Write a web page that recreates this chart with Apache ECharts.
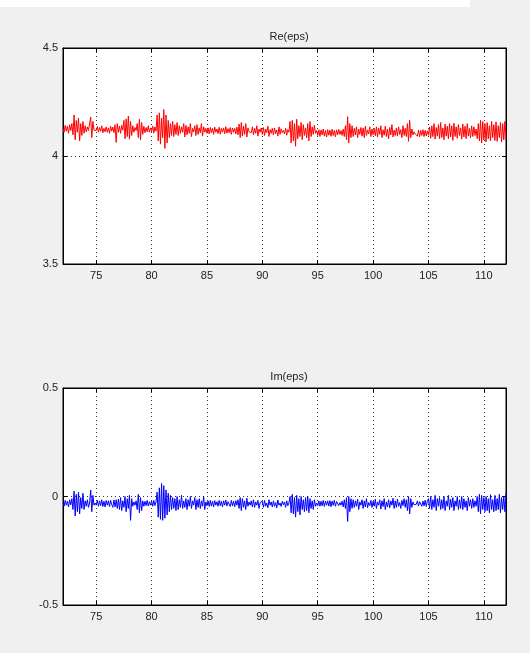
<!DOCTYPE html>
<html>
<head>
<meta charset="utf-8">
<script src="https://cdn.jsdelivr.net/npm/echarts@6/dist/echarts.min.js"></script>
<style>
html,body{margin:0;padding:0;background:#f0f0f0;}
#c{width:530px;height:653px;}
</style>
</head>
<body>
<div id="c"></div>
<script>
// sample grid of the signal (x from 72 to 112, step 0.1)
const xStart = 72;
const xStep = 0.1;
const xTicks = [75, 80, 85, 90, 95, 100, 105, 110];
const reTitle = 'Re(eps)';
const imTitle = 'Im(eps)';
const reTicksRange = [3.5, 4.5, 0.5];
const imTicksRange = [-0.5, 0.5, 0.5];

const reEps = [
4.128,4.110,4.142,4.115,4.138,4.105,4.145,4.118,4.150,4.098,
4.190,4.075,4.165,4.110,4.176,4.070,4.150,4.095,4.160,4.105,
4.140,4.112,4.135,4.118,4.125,4.180,4.085,4.160,4.120,4.128,
4.118,4.136,4.110,4.132,4.114,4.140,4.108,4.128,4.112,4.135,
4.110,4.130,4.105,4.138,4.115,4.134,4.108,4.145,4.063,4.150,
4.110,4.138,4.105,4.142,4.120,4.165,4.080,4.172,4.090,4.185,
4.078,4.160,4.095,4.140,4.110,4.132,4.118,4.150,4.085,4.170,
4.075,4.155,4.100,4.138,4.108,4.132,4.112,4.140,4.110,4.130,
4.112,4.138,4.106,4.135,4.115,4.190,4.070,4.200,4.055,4.175,
4.085,4.215,4.035,4.190,4.060,4.165,4.085,4.150,4.095,4.160,
4.090,4.145,4.100,4.155,4.095,4.140,4.105,4.135,4.110,4.150,
4.088,4.142,4.098,4.135,4.105,4.150,4.090,4.128,4.112,4.140,
4.095,4.145,4.100,4.130,4.108,4.150,4.092,4.135,4.110,4.128,
4.105,4.130,4.102,4.132,4.108,4.128,4.100,4.134,4.110,4.125,
4.104,4.133,4.101,4.128,4.110,4.130,4.103,4.136,4.106,4.127,
4.108,4.132,4.100,4.130,4.110,4.128,4.102,4.134,4.098,4.148,
4.085,4.155,4.092,4.138,4.100,4.150,4.088,4.130,4.112,4.120,
4.108,4.135,4.098,4.128,4.105,4.140,4.092,4.125,4.110,4.130,
4.100,4.132,4.095,4.125,4.108,4.138,4.090,4.122,4.105,4.128,
4.098,4.130,4.104,4.120,4.092,4.135,4.100,4.126,4.108,4.118,
4.102,4.128,4.096,4.122,4.110,4.160,4.060,4.165,4.070,4.150,
4.045,4.170,4.080,4.140,4.090,4.155,4.075,4.145,4.095,4.130,
4.085,4.150,4.070,4.160,4.090,4.135,4.100,4.142,4.105,4.118,
4.095,4.122,4.090,4.120,4.098,4.125,4.092,4.118,4.088,4.122,
4.096,4.120,4.091,4.124,4.095,4.118,4.089,4.121,4.098,4.123,
4.100,4.118,4.095,4.125,4.090,4.140,4.075,4.182,4.060,4.150,
4.085,4.140,4.090,4.128,4.098,4.135,4.085,4.125,4.100,4.132,
4.092,4.130,4.085,4.138,4.095,4.120,4.102,4.135,4.090,4.125,
4.098,4.128,4.094,4.135,4.088,4.130,4.100,4.140,4.085,4.122,
4.096,4.138,4.090,4.125,4.080,4.132,4.098,4.145,4.088,4.120,
4.095,4.130,4.092,4.135,4.100,4.122,4.085,4.140,4.095,4.128,
4.090,4.150,4.068,4.165,4.085,4.125,4.098,4.112,4.102,4.110,
4.092,4.120,4.089,4.118,4.095,4.122,4.090,4.119,4.093,4.116,
4.096,4.135,4.082,4.140,4.090,4.150,4.078,4.132,4.092,4.145,
4.080,4.155,4.085,4.130,4.075,4.148,4.092,4.138,4.080,4.150,
4.088,4.140,4.072,4.152,4.090,4.135,4.082,4.145,4.095,4.130,
4.078,4.148,4.088,4.138,4.080,4.150,4.092,4.128,4.085,4.140,
4.090,4.135,4.095,4.125,4.080,4.150,4.070,4.165,4.060,4.160,
4.075,4.150,4.065,4.155,4.080,4.140,4.070,4.160,4.085,4.145,
4.072,4.158,4.068,4.140,4.085,4.155,4.065,4.150,4.075,4.160,
4.080
];

const imEps = [
-0.030,-0.045,-0.018,-0.040,-0.022,-0.048,-0.015,-0.038,-0.010,-0.060,
0.025,-0.090,0.010,-0.070,0.020,-0.080,-0.005,-0.055,0.015,-0.060,
-0.020,-0.045,-0.015,-0.050,-0.030,0.030,-0.070,0.005,-0.040,-0.030,
-0.040,-0.018,-0.045,-0.020,-0.042,-0.015,-0.046,-0.022,-0.048,-0.018,
-0.040,-0.020,-0.046,-0.018,-0.038,-0.050,-0.016,-0.048,-0.015,-0.055,
-0.012,-0.060,-0.005,-0.065,-0.020,-0.050,0.000,-0.070,-0.010,-0.055,
0.005,-0.110,-0.010,-0.045,-0.025,-0.040,-0.020,-0.060,0.010,-0.075,
-0.005,-0.065,-0.020,-0.045,-0.022,-0.042,-0.018,-0.044,-0.024,-0.040,
-0.020,-0.045,-0.018,-0.042,-0.025,0.020,-0.095,0.040,-0.105,0.060,
-0.110,0.050,-0.100,0.030,-0.085,0.015,-0.070,0.005,-0.060,-0.005,
-0.055,-0.010,-0.065,0.000,-0.060,-0.015,-0.050,0.005,-0.055,-0.020,
-0.050,-0.010,-0.060,-0.015,-0.045,0.000,-0.055,-0.020,-0.040,-0.005,
-0.060,-0.015,-0.050,-0.010,-0.055,-0.020,-0.045,0.000,-0.060,-0.025,
-0.042,-0.020,-0.046,-0.018,-0.044,-0.022,-0.048,-0.019,-0.040,-0.024,
-0.045,-0.018,-0.042,-0.022,-0.048,-0.020,-0.040,-0.016,-0.044,-0.024,
-0.020,-0.046,-0.018,-0.043,-0.022,-0.047,-0.019,-0.040,-0.015,-0.055,
-0.005,-0.065,-0.010,-0.050,-0.020,-0.060,-0.008,-0.045,-0.025,-0.040,
-0.020,-0.048,-0.015,-0.050,-0.025,-0.040,-0.018,-0.055,-0.028,-0.035,
-0.022,-0.050,-0.018,-0.045,-0.030,-0.052,-0.015,-0.040,-0.025,-0.048,
-0.020,-0.045,-0.028,-0.052,-0.016,-0.040,-0.030,-0.046,-0.022,-0.038,
-0.025,-0.050,-0.020,-0.042,-0.030,0.000,-0.075,0.010,-0.080,-0.005,
-0.095,0.005,-0.070,-0.010,-0.085,0.000,-0.060,-0.015,-0.070,-0.005,
-0.065,0.000,-0.075,-0.010,-0.055,-0.020,-0.060,-0.015,-0.045,-0.030,
-0.042,-0.020,-0.045,-0.022,-0.043,-0.018,-0.046,-0.021,-0.040,-0.020,
-0.044,-0.019,-0.047,-0.021,-0.041,-0.017,-0.045,-0.023,-0.020,-0.042,
-0.028,-0.040,-0.022,-0.048,-0.015,-0.055,-0.005,-0.115,0.000,-0.070,
-0.010,-0.055,-0.015,-0.050,-0.020,-0.045,-0.012,-0.060,-0.025,-0.040,
-0.015,-0.055,-0.020,-0.048,-0.010,-0.052,-0.028,-0.042,-0.018,-0.050,
-0.022,-0.045,-0.012,-0.055,-0.025,-0.040,-0.015,-0.058,-0.020,-0.046,
-0.010,-0.060,-0.025,-0.048,-0.015,-0.052,-0.020,-0.040,-0.008,-0.055,
-0.020,-0.050,-0.012,-0.045,-0.028,-0.055,-0.018,-0.042,-0.010,-0.050,
-0.015,-0.065,0.000,-0.080,-0.010,-0.050,-0.025,-0.038,-0.030,-0.036,
-0.020,-0.044,-0.024,-0.018,-0.045,-0.021,-0.043,-0.017,-0.046,-0.022,
-0.010,-0.055,0.000,-0.060,-0.015,-0.050,0.005,-0.065,-0.010,-0.045,
-0.005,-0.060,-0.015,-0.055,0.000,-0.065,-0.020,-0.045,0.005,-0.060,
-0.012,-0.050,-0.005,-0.065,-0.020,-0.045,0.000,-0.060,-0.015,-0.055,
0.000,-0.060,-0.010,-0.050,-0.020,-0.065,-0.005,-0.045,-0.015,-0.055,
-0.010,-0.050,-0.020,-0.045,0.000,-0.070,0.010,-0.080,0.005,-0.060,
-0.005,-0.070,0.000,-0.065,-0.010,-0.075,0.008,-0.060,-0.015,-0.070,
0.005,-0.065,-0.010,-0.060,0.010,-0.075,-0.005,-0.060,0.000,-0.070,
0.015
];

function pairs(vals) {
  return vals.map((v, i) => [+(xStart + i * xStep).toFixed(2), v]);
}

const FONT = 'Liberation Sans, Arial, sans-serif';
const gridLine = { show: true, lineStyle: { color: '#333', width: 1, type: [1, 3] } };

function xAxes(gi) {
  return [
    {
      type: 'value', gridIndex: gi, position: 'bottom', min: 72, max: 112,
      axisLine: { show: true, onZero: false, lineStyle: { color: '#000', width: 1 } },
      axisTick: { show: true, inside: true, length: 4, customValues: xTicks, lineStyle: { color: '#000' } },
      axisLabel: { show: true, customValues: xTicks, color: '#222', fontSize: 11, fontFamily: FONT, margin: 6 },
      splitLine: gridLine
    },
    {
      type: 'value', gridIndex: gi, position: 'top', min: 72, max: 112,
      axisLine: { show: true, onZero: false, lineStyle: { color: '#000', width: 1 } },
      axisTick: { show: true, inside: true, length: 4, customValues: xTicks, lineStyle: { color: '#000' } },
      axisLabel: { show: false },
      splitLine: { show: false }
    }
  ];
}
function yAxes(gi, r) {
  return [
    {
      type: 'value', gridIndex: gi, position: 'left', min: r[0], max: r[1], interval: r[2],
      axisLine: { show: true, onZero: false, lineStyle: { color: '#000', width: 1 } },
      axisTick: { show: true, inside: true, length: 4, lineStyle: { color: '#000' } },
      axisLabel: { show: true, color: '#222', fontSize: 11, fontFamily: FONT, margin: 5 },
      splitLine: gridLine
    },
    {
      type: 'value', gridIndex: gi, position: 'right', min: r[0], max: r[1], interval: r[2],
      axisLine: { show: true, onZero: false, lineStyle: { color: '#000', width: 1 } },
      axisTick: { show: true, inside: true, length: 4, lineStyle: { color: '#000' } },
      axisLabel: { show: false },
      splitLine: { show: false }
    }
  ];
}

const chart = echarts.init(document.getElementById('c'), null, { renderer: 'canvas' });
chart.setOption({
  backgroundColor: '#f0f0f0',
  animation: false,
  graphic: [
    { type: 'rect', left: 0, top: 0, shape: { width: 470, height: 7 }, style: { fill: '#ffffff' }, silent: true }
  ],
  title: [
    { text: reTitle, left: 284, top: 26, textAlign: 'center', textStyle: { fontSize: 11, fontWeight: 'normal', color: '#222', fontFamily: FONT } },
    { text: imTitle, left: 284, top: 366, textAlign: 'center', textStyle: { fontSize: 11, fontWeight: 'normal', color: '#222', fontFamily: FONT } }
  ],
  grid: [
    { left: 63, top: 48, width: 443, height: 216, show: true, backgroundColor: '#ffffff', borderColor: '#000', borderWidth: 1 },
    { left: 63, top: 388, width: 443, height: 217, show: true, backgroundColor: '#ffffff', borderColor: '#000', borderWidth: 1 }
  ],
  xAxis: [...xAxes(0), ...xAxes(1)],
  yAxis: [...yAxes(0, reTicksRange), ...yAxes(1, imTicksRange)],
  series: [
    { type: 'line', xAxisIndex: 0, yAxisIndex: 0, data: pairs(reEps), showSymbol: false, symbol: 'none',
      lineStyle: { color: '#ff0000', width: 1 }, clip: true },
    { type: 'line', xAxisIndex: 2, yAxisIndex: 2, data: pairs(imEps), showSymbol: false, symbol: 'none',
      lineStyle: { color: '#0000ff', width: 1 }, clip: true }
  ]
});
</script>
</body>
</html>
